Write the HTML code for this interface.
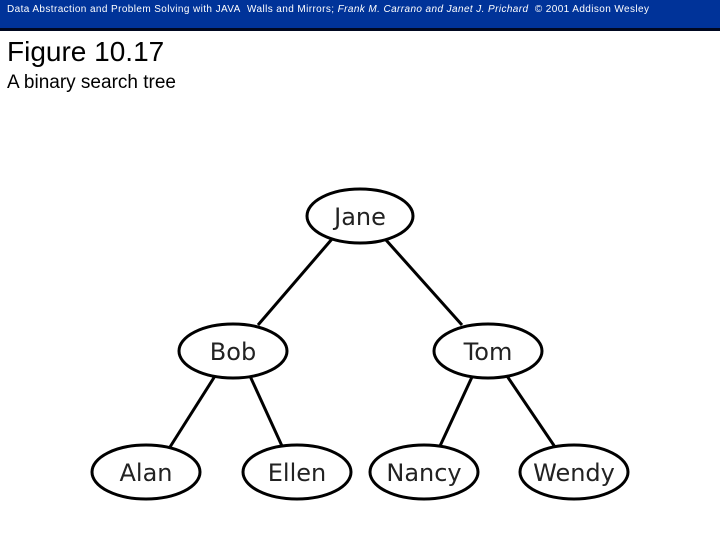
<!DOCTYPE html>
<html><head><style>
body{margin:0;width:720px;height:540px;background:#fff;position:relative;overflow:hidden;font-family:"Liberation Sans",sans-serif}
.hdr{position:absolute;left:0;top:0;width:720px;height:28px;background:#003399;border-bottom:3px solid #000820}
.hdr span{position:absolute;left:7px;top:4px;color:#fff;font-size:10px;letter-spacing:0.4px;white-space:nowrap}
.t1{position:absolute;left:7px;top:36px;font-size:28px}
.t2{position:absolute;left:7px;top:72px;font-size:19px}
</style></head><body>
<div class="hdr"><span>Data Abstraction and Problem Solving with JAVA&nbsp; Walls and Mirrors; <i>Frank M. Carrano and Janet J. Prichard</i>&nbsp; © 2001 Addison Wesley</span></div>
<div class="t1">Figure 10.17</div>
<div class="t2">A binary search tree</div>
<svg width="720" height="540" style="position:absolute;left:0;top:0">
<g stroke="#000" stroke-width="3" fill="none">
<line x1="332" y1="239" x2="258" y2="325"/>
<line x1="386" y1="240" x2="462" y2="325"/>
<line x1="215" y1="376" x2="170" y2="447"/>
<line x1="250" y1="376" x2="282" y2="446"/>
<line x1="472" y1="377" x2="440" y2="446"/>
<line x1="507" y1="376" x2="555" y2="447"/>
</g>
<g stroke="#000" stroke-width="3" fill="#fff">
<ellipse cx="360" cy="216" rx="53" ry="27"/>
<ellipse cx="233" cy="351" rx="54" ry="27"/>
<ellipse cx="488" cy="351" rx="54" ry="27"/>
<ellipse cx="146" cy="472" rx="54" ry="27"/>
<ellipse cx="297" cy="472" rx="54" ry="27"/>
<ellipse cx="424" cy="472" rx="54" ry="27"/>
<ellipse cx="574" cy="472" rx="54" ry="27"/>
</g>
<g font-family="DejaVu Sans, sans-serif" font-size="24" fill="#222" text-anchor="middle">
<text x="360" y="225">Jane</text>
<text x="233" y="360">Bob</text>
<text x="488" y="360">Tom</text>
<text x="146" y="481">Alan</text>
<text x="297" y="481">Ellen</text>
<text x="424" y="481">Nancy</text>
<text x="574" y="481">Wendy</text>
</g>
</svg>
</body></html>
